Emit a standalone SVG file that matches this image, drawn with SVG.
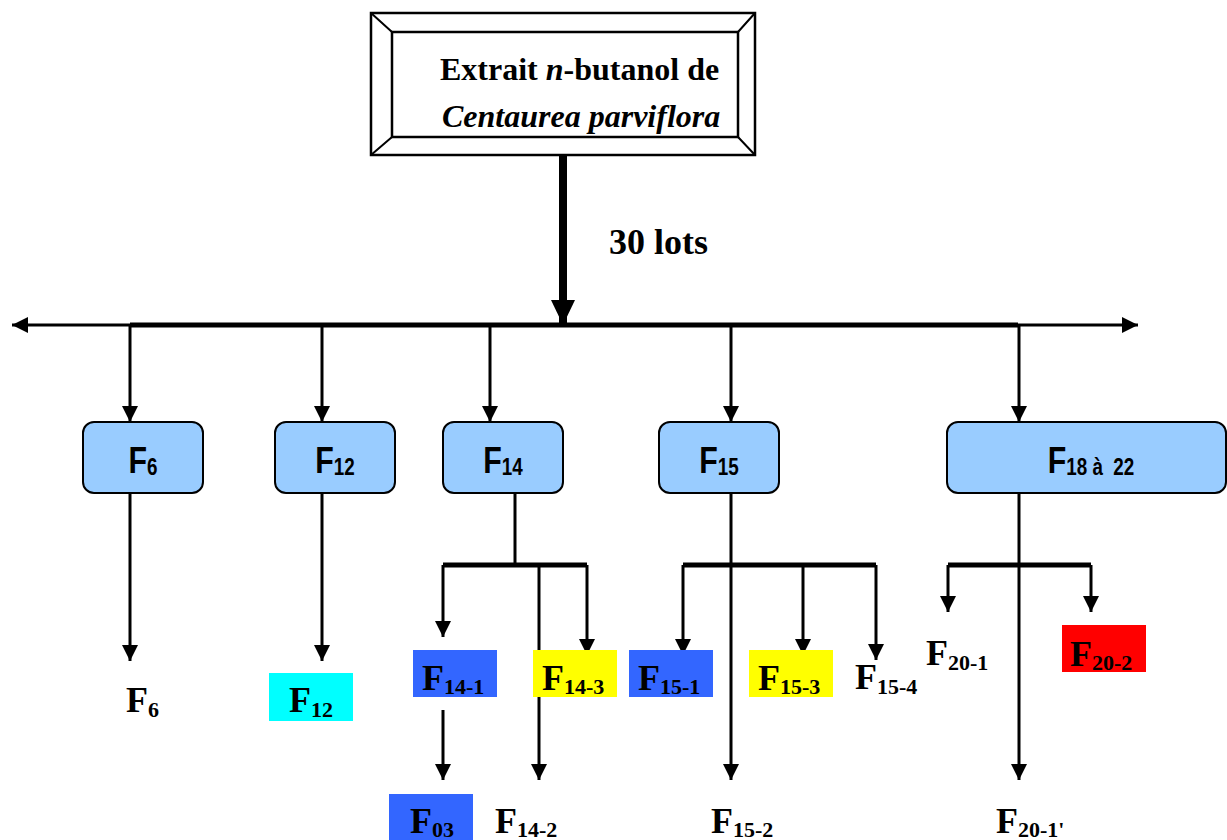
<svg xmlns="http://www.w3.org/2000/svg" width="1227" height="840" viewBox="0 0 1227 840">
<style>
.ln{stroke:#000;stroke-width:3;fill:none}
.bar{stroke:#000;stroke-width:5;fill:none}
.thin{stroke:#000;stroke-width:3;fill:none}
.box{fill:#99ccff;stroke:#000;stroke-width:2}
.bt{font-family:"Liberation Sans",Arial,sans-serif;font-weight:bold;font-size:37px;fill:#000;text-anchor:middle}
.bs{font-size:23px}
.lt{font-family:"Liberation Serif","Times New Roman",serif;font-weight:bold;font-size:36px;fill:#000}
.ls{font-size:22px}
.title{font-family:"Liberation Serif","Times New Roman",serif;font-weight:bold;font-size:32px;fill:#000}
</style>
<defs>
<marker id="ah" markerUnits="userSpaceOnUse" markerWidth="16" markerHeight="16" viewBox="0 0 16 16" refX="16" refY="8" orient="auto">
<path d="M0,0 L16,8 L0,16 z" fill="#000"/>
</marker>
<marker id="ahh" markerUnits="userSpaceOnUse" markerWidth="16" markerHeight="16" viewBox="0 0 16 16" refX="16" refY="8" orient="auto">
<path d="M0,0 L16,8 L0,16 z" fill="#000"/>
</marker>
<marker id="ahm" markerUnits="userSpaceOnUse" markerWidth="25" markerHeight="24" viewBox="0 0 25 24" refX="25" refY="12" orient="auto">
<path d="M0,0 L25,12 L0,24 z" fill="#000"/>
</marker>
</defs>

<g id="source">
<rect x="371" y="13" width="384" height="142" fill="#fff" stroke="#000" stroke-width="2.5"/>
<rect x="392" y="32" width="346" height="105" fill="none" stroke="#000" stroke-width="2.5"/>
<path d="M371,13 L392,32 M755,13 L738,32 M371,155 L392,137 M755,155 L738,137" stroke="#000" stroke-width="2"/>
<text class="title" x="440" y="80">Extrait <tspan font-style="italic">n</tspan>-butanol de</text>
<text class="title" x="442" y="127" font-style="italic">Centaurea parviflora</text>
</g>

<g id="connectors">
<line x1="563" y1="155" x2="563" y2="325" stroke="#000" stroke-width="8" marker-end="url(#ahm)"/>
<text class="lt" x="609" y="254" font-size="35px">30 lots</text>
<line x1="130" y1="325" x2="1018" y2="325" class="bar"/>
<line x1="132" y1="325" x2="12" y2="325" class="thin" marker-end="url(#ahh)"/>
<line x1="1016" y1="325" x2="1138" y2="325" class="thin" marker-end="url(#ahh)"/>
<line x1="130" y1="325" x2="130" y2="422" class="ln" marker-end="url(#ah)"/>
<line x1="322" y1="325" x2="322" y2="422" class="ln" marker-end="url(#ah)"/>
<line x1="490" y1="325" x2="490" y2="422" class="ln" marker-end="url(#ah)"/>
<line x1="731" y1="325" x2="731" y2="422" class="ln" marker-end="url(#ah)"/>
<line x1="1019" y1="325" x2="1019" y2="422" class="ln" marker-end="url(#ah)"/>

<line x1="130" y1="493" x2="130" y2="661" class="ln" marker-end="url(#ah)"/>
<line x1="322" y1="493" x2="322" y2="661" class="ln" marker-end="url(#ah)"/>

<line x1="515" y1="493" x2="515" y2="565" class="ln"/>
<line x1="443" y1="565" x2="587" y2="565" class="bar"/>
<line x1="443" y1="565" x2="443" y2="637" class="ln" marker-end="url(#ah)"/>
<line x1="539" y1="565" x2="539" y2="780" class="ln" marker-end="url(#ah)"/>
<line x1="587" y1="565" x2="587" y2="655" class="ln" marker-end="url(#ah)"/>
<line x1="443" y1="710" x2="443" y2="780" class="ln" marker-end="url(#ah)"/>

<line x1="731" y1="493" x2="731" y2="780" class="ln" marker-end="url(#ah)"/>
<line x1="683" y1="565" x2="876" y2="565" class="bar"/>
<line x1="683" y1="565" x2="683" y2="655" class="ln" marker-end="url(#ah)"/>
<line x1="803" y1="565" x2="803" y2="655" class="ln" marker-end="url(#ah)"/>
<line x1="876" y1="565" x2="876" y2="660" class="ln" marker-end="url(#ah)"/>

<line x1="1019" y1="493" x2="1019" y2="780" class="ln" marker-end="url(#ah)"/>
<line x1="948" y1="565" x2="1091" y2="565" class="bar"/>
<line x1="948" y1="565" x2="948" y2="612" class="ln" marker-end="url(#ah)"/>
<line x1="1091" y1="565" x2="1091" y2="612" class="ln" marker-end="url(#ah)"/>
</g>

<g id="F6">
<rect class="box" x="83" y="422" width="120" height="71" rx="11"/>
<text class="bt" transform="translate(143,473) scale(0.82,1)">F<tspan class="bs" dy="2">6</tspan></text>
</g>
<g id="F12">
<rect class="box" x="275" y="422" width="120" height="71" rx="11"/>
<text class="bt" transform="translate(335,473) scale(0.82,1)">F<tspan class="bs" dy="2">12</tspan></text>
</g>
<g id="F14">
<rect class="box" x="443" y="422" width="120" height="71" rx="11"/>
<text class="bt" transform="translate(503,473) scale(0.82,1)">F<tspan class="bs" dy="2">14</tspan></text>
</g>
<g id="F15">
<rect class="box" x="659" y="422" width="120" height="71" rx="11"/>
<text class="bt" transform="translate(719,473) scale(0.82,1)">F<tspan class="bs" dy="2">15</tspan></text>
</g>
<g id="F18-22">
<rect class="box" x="947" y="422" width="279" height="71" rx="11"/>
<text class="bt" xml:space="preserve" transform="translate(1091,473) scale(0.82,1)">F<tspan class="bs" dy="2">18 à  22</tspan></text>
</g>

<g id="F6-out">
<text class="lt" x="126" y="712">F<tspan class="ls" dy="5">6</tspan></text>
</g>
<g id="F12-out">
<rect x="269" y="673" width="84" height="48" fill="#00ffff"/>
<text class="lt" x="289" y="712">F<tspan class="ls" dy="5">12</tspan></text>
</g>
<g id="F14-1">
<rect x="413" y="650" width="84" height="47" fill="#3366ff"/>
<text class="lt" x="422" y="690">F<tspan class="ls" dy="4">14-1</tspan></text>
</g>
<g id="F14-3">
<rect x="533" y="650" width="84" height="47" fill="#ffff00"/>
<text class="lt" x="542" y="690">F<tspan class="ls" dy="4">14-3</tspan></text>
</g>
<g id="F03">
<rect x="389" y="794" width="84" height="50" fill="#3366ff"/>
<text class="lt" x="410" y="833">F<tspan class="ls" dy="4">03</tspan></text>
</g>
<g id="F14-2">
<text class="lt" x="495" y="833">F<tspan class="ls" dy="4">14-2</tspan></text>
</g>
<g id="F15-1">
<rect x="629" y="650" width="84" height="47" fill="#3366ff"/>
<text class="lt" x="638" y="690">F<tspan class="ls" dy="4">15-1</tspan></text>
</g>
<g id="F15-3">
<rect x="749" y="650" width="84" height="47" fill="#ffff00"/>
<text class="lt" x="758" y="690">F<tspan class="ls" dy="4">15-3</tspan></text>
</g>
<g id="F15-4">
<text class="lt" x="855" y="689">F<tspan class="ls" dy="5">15-4</tspan></text>
</g>
<g id="F15-2">
<text class="lt" x="711" y="833">F<tspan class="ls" dy="4">15-2</tspan></text>
</g>
<g id="F20-1">
<text class="lt" x="926" y="665">F<tspan class="ls" dy="5">20-1</tspan></text>
</g>
<g id="F20-2">
<rect x="1062" y="625" width="84" height="47" fill="#ff0000"/>
<text class="lt" x="1070" y="666">F<tspan class="ls" dy="4">20-2</tspan></text>
</g>
<g id="F20-1p">
<text class="lt" x="996" y="833">F<tspan class="ls" dy="4">20-1'</tspan></text>
</g>
</svg>
